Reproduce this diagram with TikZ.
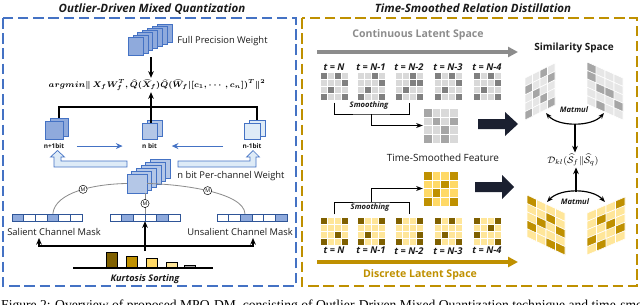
\documentclass[tikz,border=0pt]{standalone}
\usepackage{fontspec}
\setmainfont{Open Sans}
\newfontfamily\captionserif{Liberation Serif}
\usepackage{amsmath}
\usetikzlibrary{arrows.meta,positioning,calc,fit,backgrounds}
\definecolor{odBlue}{HTML}{4472C4}
\definecolor{odBlueDk}{HTML}{2F5597}
\definecolor{odSheetDk}{HTML}{8FAADC}
\definecolor{odSheet}{HTML}{B4C7E7}
\definecolor{odSheetLt}{HTML}{DEEBF7}
\definecolor{tsGold}{HTML}{BF9000}
\definecolor{tsGoldDk}{HTML}{7F6000}
\definecolor{tsYellow}{HTML}{FFE699}
\definecolor{tsYellowMd}{HTML}{FFD966}
\definecolor{tsGrayLt}{HTML}{D9D9D9}
\definecolor{tsGrayPg}{HTML}{E6E6E6}
\definecolor{tsGrayDk}{HTML}{808080}
\definecolor{tsGrayMd}{HTML}{A6A6A6}
\definecolor{tsMuted}{HTML}{8C8C8C}
\definecolor{tsInk}{HTML}{1A1A1A}
\definecolor{tsNavy}{HTML}{1B2030}
\newsavebox{\objbox}
\newsavebox{\klbox}
\tikzset{
  paneltitle/.style={font=\fontsize{9.8}{11}\selectfont\bfseries\itshape, text=tsInk, inner sep=1pt},
  lbl/.style={font=\fontsize{8}{9}\selectfont, text=tsInk, inner sep=1pt},
  bitlbl/.style={font=\fontsize{5.5}{6}\selectfont\bfseries, text=tsInk, inner sep=0.5pt},
  tlbl/.style={font=\fontsize{8}{9}\selectfont\bfseries\itshape, text=tsInk, inner sep=0.5pt},
  smlbl/.style={font=\fontsize{6.5}{7}\selectfont\bfseries\itshape, text=tsInk, inner sep=0.5pt},
  sheet/.style={draw=odBlue, line width=0.4pt, inner sep=0pt},
  maskcell/.style={draw=odBlueDk, line width=0.5pt, fill=white},
  karr/.style={-{Stealth[length=2mm, width=1.7mm]}, line width=1.1pt, draw=black},
  barr/.style={-{Stealth[length=2mm, width=1.8mm]}, line width=0.9pt, draw=odBlue},
  brk/.style={line width=0.7pt, draw=black},
  arcline/.style={line width=0.7pt, draw=tsMuted},
  mcirc/.style={circle, draw=black, fill=white, line width=0.4pt, inner sep=0pt, minimum size=7pt, font=\fontsize{4.5}{5}\selectfont},
  mmarr/.style={{Stealth[length=1.8mm]}-{Stealth[length=1.8mm]}, line width=1pt, draw=black},
  hollowarr/.style={fill=odSheetLt, draw=odBlue, line width=0.6pt},
  latentarr/.style={-{Triangle[length=3mm, width=3mm]}, line width=2.6pt},
}
% stack of sheets: name, centre x, centre y, w, h, sheets behind, dx, dy, fill
\newcommand{\sheetstack}[9]{%
  \foreach \i in {#6,...,1}
    \node[sheet, fill=#9, minimum width=#4*0.3mm, minimum height=#5*0.3mm] at ({#2+\i*#7},{#3-\i*#8}) {};
  \node[sheet, fill=#9, minimum width=#4*0.3mm, minimum height=#5*0.3mm] (#1) at (#2,#3) {};
}
% 4x4 feature map: name, x, y, cell, light, dark, dark cells
\newcommand{\tsgrid}[7]{%
  \foreach \gc in {1,...,4}{\foreach \gr in {1,...,4}{%
    \path[fill=#5, draw=white, line width=0.4pt] ({#2+(\gc-1)*#4},{#3+(\gr-1)*#4}) rectangle ++(#4,#4);}}
  \foreach \gc/\gr in {#7}{%
    \path[fill=#6, draw=white, line width=0.4pt] ({#2+(\gc-1)*#4},{#3+(\gr-1)*#4}) rectangle ++(#4,#4);}
  \path (#2,#3) coordinate (#1-nw) ({#2+4*#4},{#3+4*#4}) coordinate (#1-se);
  \node[fit=(#1-nw)(#1-se), inner sep=0pt] (#1) {};
}
% slanted similarity page: x0, y0, ux, uy, light, dark, dark cells
\newcommand{\simpage}[7]{%
  \foreach \gc in {0,...,3}{\foreach \gr in {0,...,4}{%
    \path[fill=#5, draw=white, line width=0.5pt] ({#1+\gc*(#3)},{#2+\gc*(#4)+\gr*8.4}) -- ({#1+(\gc+1)*(#3)},{#2+(\gc+1)*(#4)+\gr*8.4}) -- ({#1+(\gc+1)*(#3)},{#2+(\gc+1)*(#4)+(\gr+1)*8.4}) -- ({#1+\gc*(#3)},{#2+\gc*(#4)+(\gr+1)*8.4}) -- cycle;}}
  \foreach \gc/\gr in {#7}{%
    \path[fill=#6, draw=white, line width=0.5pt] ({#1+\gc*(#3)},{#2+\gc*(#4)+\gr*8.4}) -- ({#1+(\gc+1)*(#3)},{#2+(\gc+1)*(#4)+\gr*8.4}) -- ({#1+(\gc+1)*(#3)},{#2+(\gc+1)*(#4)+(\gr+1)*8.4}) -- ({#1+\gc*(#3)},{#2+\gc*(#4)+(\gr+1)*8.4}) -- cycle;}
}
% channel mask: name, x0, blue cells
\newcommand{\chmask}[3]{%
  \foreach \i in {0,...,5}
    \draw[maskcell] ({#2+\i*11.67},214) rectangle ++(11.67,7);
  \foreach \i in {#3}
    \draw[maskcell, fill=odSheetDk] ({#2+\i*11.67},214) rectangle ++(11.67,7);
  \path (#2,214) coordinate (#1-nw) ({#2+70},221) coordinate (#1-se);
  \node[fit=(#1-nw)(#1-se), inner sep=0pt] (#1) {};
}

\begin{document}
\sbox{\objbox}{\fontsize{6.6}{8}\selectfont\boldmath$argmin\Vert\, X_fW_f^T,\widehat{Q}(\widehat{X}_f)\widehat{Q}(\widehat{W}_f\vert[c_1,\cdots,c_n])^T\Vert^2$}%
\sbox{\klbox}{\fontsize{8}{9}\selectfont$\mathcal{D}_{kl}(\widehat{\mathcal{S}}_f\Vert\widehat{\mathcal{S}}_q)$}%
\begin{tikzpicture}[x=0.3mm, y=-0.3mm, node distance=1pt]
  \useasboundingbox (0,0) rectangle (640,304);
  \clip (0,0) rectangle (640,304);

  % panels
  \node[paneltitle] (odTitle) at (152,9) {Outlier-Driven Mixed Quantization};
  \node[paneltitle] (tsTitle) at (473,8) {Time-Smoothed Relation Distillation};
  \draw[odBlue, line width=1.2pt, dash pattern=on 9pt off 4pt] (3,18) rectangle (296,286);
  \draw[tsGold, line width=1.2pt, dash pattern=on 9pt off 4pt] (302,18) rectangle (637,286);

  % ---- outlier-driven mixed quantization
  \sheetstack{fullw}{135.5}{46}{15}{18}{6}{4.83}{2.17}{odSheetDk}
  \node[lbl, anchor=west] (fullLbl) at (176,41) {Full Precision Weight};
  \node[inner sep=1pt] (obj) at (157,85) {\usebox{\objbox}};
  \coordinate (fwFoot) at (151,57);
  \draw[karr] (fwFoot) -- (fwFoot |- obj.north);

  \sheetstack{bitP}{54}{130}{18}{18}{1}{5}{3}{odSheetDk}
  \sheetstack{bitN}{149.5}{131}{15}{16}{1}{5}{3}{odSheet}
  \sheetstack{bitM}{252}{131}{16}{16}{1}{5}{3}{odSheetLt}
  \coordinate (tree) at (151,107);
  \coordinate (treeL) at (59,107);
  \coordinate (treeR) at (257,107);
  \begin{scope}[on background layer]
    \draw[line width=1.1pt] (treeL |- bitP.north) -- (treeL) -- (treeR) -- (treeR |- bitM.north);
  \end{scope}
  \draw[karr] (tree |- bitN.north) -- (tree |- obj.south);
  \node[bitlbl, below=3pt of bitP] (lblP) {n+1bit};
  \node[bitlbl, below=3pt of bitN] (lblN) {n bit};
  \node[bitlbl, below=3pt of bitM] (lblM) {n-1bit};
  \draw[barr, shorten <=10pt, shorten >=16pt] (lblP.east) -- (lblN.west);
  \draw[barr, shorten <=16pt, shorten >=12pt] (lblM.west) -- (lblN.east);

  \sheetstack{pcw}{137}{183.5}{20}{19}{5}{4.6}{3}{odSheet}
  \node[lbl, anchor=west] (pcwLbl) at (176,176) {n bit Per-channel Weight};
  \path[hollowarr] (127,161) -- (61,161) -- (61,157) -- (64.5,157) -- (57.5,150.5) -- (50.5,157) -- (54,157) -- (54,167) -- (127,167) -- cycle;
  \path[hollowarr] (178,161) -- (250,161) -- (250,157) -- (246.5,157) -- (253,150.5) -- (259.5,157) -- (256,157) -- (256,167) -- (178,167) -- cycle;

  \chmask{maskS}{12}{0,3}
  \chmask{maskC}{110}{1,4}
  \chmask{maskU}{217}{2,5}
  \draw[arcline] (pcw.west) .. controls (95,184) and (55,192) .. node[pos=0.45, mcirc] {M} ([xshift=5pt]maskS.north);
  \draw[arcline] (pcw.east) .. controls (179,184) and (244,192) .. node[pos=0.5, mcirc] {M} ([xshift=-6pt]maskU.north);
  \draw[arcline] (maskC.north |- pcw.south) -- node[mcirc] {M} (maskC.north);
  \node[lbl] (salLbl) at (54,232) {Salient Channel Mask};
  \node[lbl, anchor=west] (unsalLbl) at (186,232) {Unsalient Channel Mask};

  \draw[line width=1.8pt] (73,268) coordinate (kurtL) -- (213,268) coordinate (kurtR);
  \draw[line width=0.8pt, fill=tsGoldDk] (106,252) rectangle (117,267);
  \draw[line width=0.8pt, fill=tsGold] (126,256) rectangle (137,267);
  \draw[line width=0.8pt, fill=tsYellowMd] (146,258) rectangle (157,267);
  \draw[line width=0.8pt, fill=tsYellow] (166,262) rectangle (177,267);
  \draw[line width=0.8pt, fill=tsGrayMd] (184,265) rectangle (195,267);
  \node[smlbl, font=\fontsize{7.8}{8}\selectfont\bfseries\itshape] (kurtLbl) at (145,279) {Kurtosis Sorting};
  \coordinate (kTop) at (145,251);
  \coordinate (kJoin) at (145,246);
  \coordinate (sTip) at (39,238);
  \coordinate (uTip) at (253,238);
  \draw[karr] (kTop) -- (maskC.south);
  \draw[karr] (kJoin) -| (sTip);
  \draw[karr] (kJoin) -| (uTip);

  % ---- time-smoothed relation distillation
  \node[font=\fontsize{9}{10}\selectfont\bfseries, text=tsMuted] (contLbl) at (418,35) {Continuous Latent Space};
  \coordinate (contS) at (317,52);
  \coordinate (contE) at (518,52);
  \draw[latentarr, draw=tsMuted] (contS) -- (contE);
  \node[font=\fontsize{8.5}{9}\selectfont\bfseries, text=tsInk] (simLbl) at (574,48) {Similarity Space};

  \tsgrid{g1}{320}{72}{7}{tsGrayLt}{tsGrayDk}{1/1,3/1,4/2,2/3,1/4,4/4}
  \tsgrid{g2}{357}{72}{7}{tsGrayLt}{tsGrayDk}{3/1,4/2,2/3,1/4,4/4}
  \tsgrid{g3}{395}{72}{7}{tsGrayLt}{tsGrayDk}{3/1,3/2,4/2,2/3,1/4,4/4}
  \tsgrid{g4}{434}{72}{7}{tsGrayLt}{tsGrayDk}{1/1,3/1,4/2,2/3,1/4,4/4}
  \tsgrid{g5}{473}{72}{7}{tsGrayLt}{tsGrayDk}{1/1,3/1,4/2,2/3,1/4,4/4}
  \node[tlbl, above=0.5pt of g1] {t = N};
  \node[tlbl, above=0.5pt of g2] {t = N-1};
  \node[tlbl, above=0.5pt of g3] {t = N-2};
  \node[tlbl, above=0.5pt of g4] {t = N-3};
  \node[tlbl, above=0.5pt of g5] {t = N-4};

  \tsgrid{sg}{423}{108}{8.75}{tsGrayLt}{tsGrayMd}{1/1,2/2,4/2,3/3,1/4,3/4}
  \coordinate (smTop) at (371,114);
  \draw[brk] ([yshift=-2pt]g1.south) |- (smTop) -| ([yshift=-2pt]g3.south);
  \draw[brk, -{Stealth[length=2mm]}] (smTop) |- (sg.west);
  \node[smlbl] (smTopLbl) at (369,106) {Smoothing};

  \path[fill=tsNavy] (478,119) -- (505,119) -- (505,112) -- (518,124) -- (505,136) -- (505,129) -- (478,129) -- cycle;
  \path[fill=tsNavy] (475,182) -- (502,182) -- (502,175) -- (514,187) -- (502,199) -- (502,192) -- (475,192) -- cycle;

  \node[font=\fontsize{8.5}{9}\selectfont, text=tsInk] (tsfLbl) at (443,158) {Time-Smoothed Feature};
  \tsgrid{sy}{423}{171}{8.75}{tsYellowMd}{tsGold}{1/1,4/1,3/2,2/3,1/4,4/4}

  \tsgrid{y1}{320}{217}{7}{tsYellow}{tsGoldDk}{1/1,4/1,3/3,1/4,4/4}
  \tsgrid{y2}{357}{217}{7}{tsYellow}{tsGoldDk}{1/1,4/1,2/3,1/4,4/4}
  \tsgrid{y3}{395}{217}{7}{tsYellow}{tsGoldDk}{1/1,4/1,4/3,1/4,4/4}
  \tsgrid{y4}{434}{217}{7}{tsYellow}{tsGoldDk}{1/1,3/1,2/3,1/4,4/4}
  \tsgrid{y5}{473}{217}{7}{tsYellow}{tsGoldDk}{1/1,4/1,3/2,1/3,4/4}
  \node[tlbl, below=1pt of y1] {t = N};
  \node[tlbl, below=1pt of y2] {t = N-1};
  \node[tlbl, below=1pt of y3] {t = N-2};
  \node[tlbl, below=1pt of y4] {t = N-3};
  \node[tlbl, below=1pt of y5] {t = N-4};
  \coordinate (smBot) at (371,202);
  \draw[brk] ([yshift=2pt]y1.north) |- (smBot) -| ([yshift=2pt]y3.north);
  \draw[brk, -{Stealth[length=2mm]}] (smBot) |- (sy.west);
  \node[smlbl] (smBotLbl) at (370,208) {Smoothing};

  \coordinate (discS) at (317,262);
  \coordinate (discE) at (518,262);
  \draw[latentarr, draw=tsGold] (discS) -- (discE);
  \node[font=\fontsize{9}{10}\selectfont\bfseries, text=tsGold] (discLbl) at (420,275) {Discrete Latent Space};

  \simpage{525}{78}{7.5}{-3.75}{tsGrayPg}{tsGrayMd}{0/1,2/0,1/2,3/1,0/4,2/3,3/4}
  \simpage{587}{62}{9}{4}{tsGrayPg}{tsGrayMd}{0/0,1/2,2/2,3/3,1/4,0/1}
  \simpage{527}{195}{9.5}{4.5}{tsYellow}{tsGold}{0/0,2/1,1/2,3/2,0/3,2/4,3/4}
  \simpage{587}{213}{9.5}{-4}{tsYellow}{tsGold}{3/0,1/1,2/2,0/3,3/3,1/4}

  \node[inner sep=1pt] (kl) at (573,160) {\usebox{\klbox}};
  \coordinate (mmTL) at (546,113);
  \coordinate (mmTR) at (604,113);
  \draw[mmarr] (mmTL) .. controls (558,127) and (592,127) .. coordinate[pos=0.5] (mmT) (mmTR);
  \node[smlbl] (mmTLbl) at (574,110) {Matmul};
  \draw[karr] (mmT) -- (mmT |- kl.north);
  \coordinate (mmBL) at (547,202);
  \coordinate (mmBR) at (605,202);
  \draw[mmarr] (mmBL) .. controls (560,188) and (592,188) .. coordinate[pos=0.5] (mmB) (mmBR);
  \node[smlbl] (mmBLbl) at (575,202) {Matmul};
  \draw[karr] (mmB) -- (mmB |- kl.south);

  \node[anchor=base west, inner sep=0pt, font=\captionserif\fontsize{11.6}{13}\selectfont] (cap) at (1,309.5)
    {Figure 2: Overview of proposed MPQ-DM, consisting of Outlier-Driven Mixed Quantization technique and time-smoothed relation distillation.};
\end{tikzpicture}
\end{document}
